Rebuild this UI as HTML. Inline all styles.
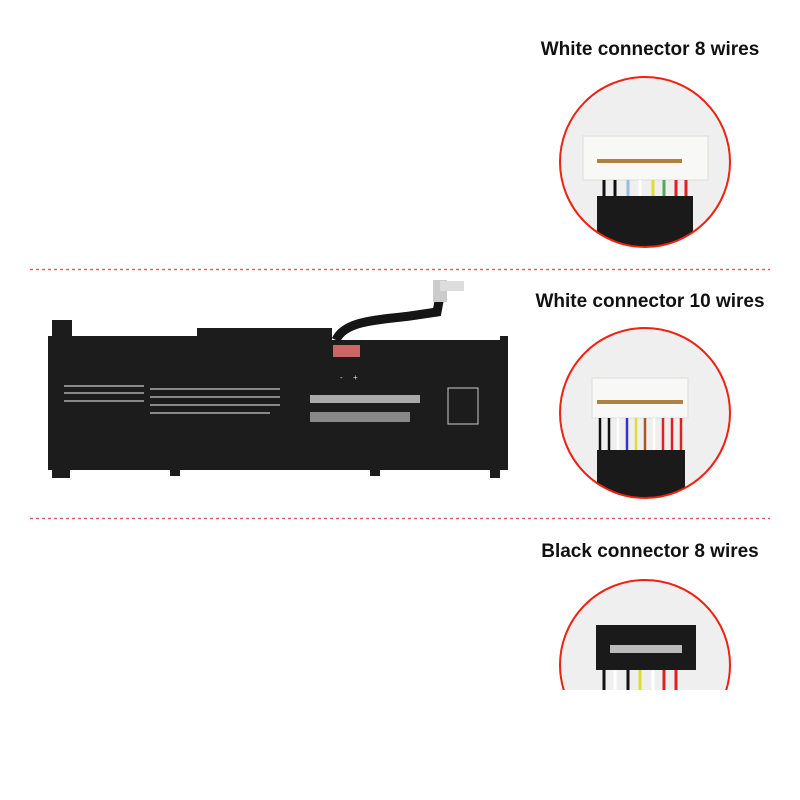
<!DOCTYPE html>
<html><head><style>
body{margin:0;width:800px;height:800px;background:#fff;position:relative;overflow:hidden;font-family:"Liberation Sans",sans-serif}
.t{position:absolute;left:500px;width:300px;text-align:center;font-weight:bold;font-size:19px;color:#111}
</style></head><body>
<div class="t" style="top:39px">White connector 8 wires</div>
<div class="t" style="top:291px">White connector 10 wires</div>
<div class="t" style="top:541px">Black connector 8 wires</div>
<svg width="800" height="800" style="position:absolute;left:0;top:0">
<defs>
<clipPath id="c1"><circle cx="645" cy="162" r="85"/></clipPath>
<clipPath id="c2"><circle cx="645" cy="413" r="85"/></clipPath>
<clipPath id="c3"><circle cx="645" cy="665" r="85"/></clipPath>
<clipPath id="cb"><rect x="0" y="0" width="800" height="690"/></clipPath>
</defs>
<line x1="30" y1="269.5" x2="770" y2="269.5" stroke="#e06060" stroke-width="1.5" stroke-dasharray="3,3"/>
<line x1="30" y1="518.5" x2="770" y2="518.5" stroke="#e06060" stroke-width="1.5" stroke-dasharray="3,3"/>
<!-- battery -->
<path d="M52 320 H72 V336 H197 V328 H332 V340 H500 V336 H508 V470 H500 V478 H490 V470 H380 V476 H370 V470 H180 V476 H170 V470 H70 V478 H52 V470 H48 V336 H52 Z" fill="#1c1c1c"/>
<path d="M336 340 C345 320,380 320,410 316 L437 312 L440 296" stroke="#151515" stroke-width="9" fill="none"/>
<rect x="336" y="340" width="30" height="16" fill="#1c1c1c"/>
<rect x="333" y="345" width="27" height="12" fill="#c66"/>
<rect x="433" y="280" width="14" height="22" fill="#ccc"/>
<rect x="440" y="281" width="24" height="10" fill="#ddd"/>
<g fill="#888"><rect x="64" y="385" width="80" height="2"/><rect x="64" y="392" width="80" height="2"/><rect x="64" y="400" width="80" height="2"/><rect x="150" y="388" width="130" height="2"/><rect x="150" y="396" width="130" height="2"/><rect x="150" y="404" width="130" height="2"/><rect x="150" y="412" width="120" height="2"/><rect x="310" y="395" width="110" height="8" fill="#aaa"/><rect x="310" y="412" width="100" height="10" fill="#888"/><rect x="448" y="388" width="30" height="36" fill="none" stroke="#ccc"/></g>
<text x="340" y="380" fill="#ddd" font-size="8">-</text><text x="353" y="380" fill="#ddd" font-size="8">+</text>
<!-- circle 1 -->
<circle cx="645" cy="162" r="85" fill="#efefef"/>
<g clip-path="url(#c1)">
<rect x="583" y="136" width="125" height="44" fill="#f8f8f6" stroke="#ddd"/>
<rect x="597" y="159" width="85" height="4" fill="#b08040"/>
<g stroke-width="3"><line x1="604" y1="180" x2="604" y2="196" stroke="#111"/><line x1="615" y1="180" x2="615" y2="196" stroke="#111"/><line x1="628" y1="180" x2="628" y2="196" stroke="#9bd"/><line x1="640" y1="180" x2="640" y2="196" stroke="#fff"/><line x1="653" y1="180" x2="653" y2="196" stroke="#dd3"/><line x1="664" y1="180" x2="664" y2="196" stroke="#5a5"/><line x1="676" y1="180" x2="676" y2="196" stroke="#d22"/><line x1="686" y1="180" x2="686" y2="196" stroke="#d22"/></g>
<rect x="597" y="196" width="96" height="60" fill="#1a1a1a"/>
</g>
<circle cx="645" cy="162" r="85" fill="none" stroke="#e21" stroke-width="2"/>
<!-- circle 2 -->
<circle cx="645" cy="413" r="85" fill="#efefef"/>
<g clip-path="url(#c2)">
<rect x="592" y="378" width="96" height="40" fill="#f8f8f6" stroke="#ddd"/>
<rect x="597" y="400" width="86" height="4" fill="#b08040"/>
<g stroke-width="2.5"><line x1="600" y1="418" x2="600" y2="450" stroke="#111"/><line x1="609" y1="418" x2="609" y2="450" stroke="#111"/><line x1="618" y1="418" x2="618" y2="450" stroke="#fff"/><line x1="627" y1="418" x2="627" y2="450" stroke="#33c"/><line x1="636" y1="418" x2="636" y2="450" stroke="#dd3"/><line x1="645" y1="418" x2="645" y2="450" stroke="#a52"/><line x1="654" y1="418" x2="654" y2="450" stroke="#fff"/><line x1="663" y1="418" x2="663" y2="450" stroke="#d22"/><line x1="672" y1="418" x2="672" y2="450" stroke="#d22"/><line x1="681" y1="418" x2="681" y2="450" stroke="#d22"/></g>
<rect x="597" y="450" width="88" height="60" fill="#1a1a1a"/>
</g>
<circle cx="645" cy="413" r="85" fill="none" stroke="#e21" stroke-width="2"/>
<!-- circle 3 -->
<g clip-path="url(#cb)">
<circle cx="645" cy="665" r="85" fill="#efefef"/>
<g clip-path="url(#c3)">
<rect x="596" y="625" width="100" height="45" fill="#1a1a1a"/>
<rect x="610" y="645" width="72" height="8" fill="#bbb"/>
<g stroke-width="3"><line x1="604" y1="670" x2="604" y2="690" stroke="#111"/><line x1="615" y1="670" x2="615" y2="690" stroke="#fff"/><line x1="628" y1="670" x2="628" y2="690" stroke="#111"/><line x1="640" y1="670" x2="640" y2="690" stroke="#dd3"/><line x1="653" y1="670" x2="653" y2="690" stroke="#fff"/><line x1="664" y1="670" x2="664" y2="690" stroke="#d22"/><line x1="676" y1="670" x2="676" y2="690" stroke="#d22"/></g>
</g>
<circle cx="645" cy="665" r="85" fill="none" stroke="#e21" stroke-width="2"/>
</g>
</svg>
</body></html>
